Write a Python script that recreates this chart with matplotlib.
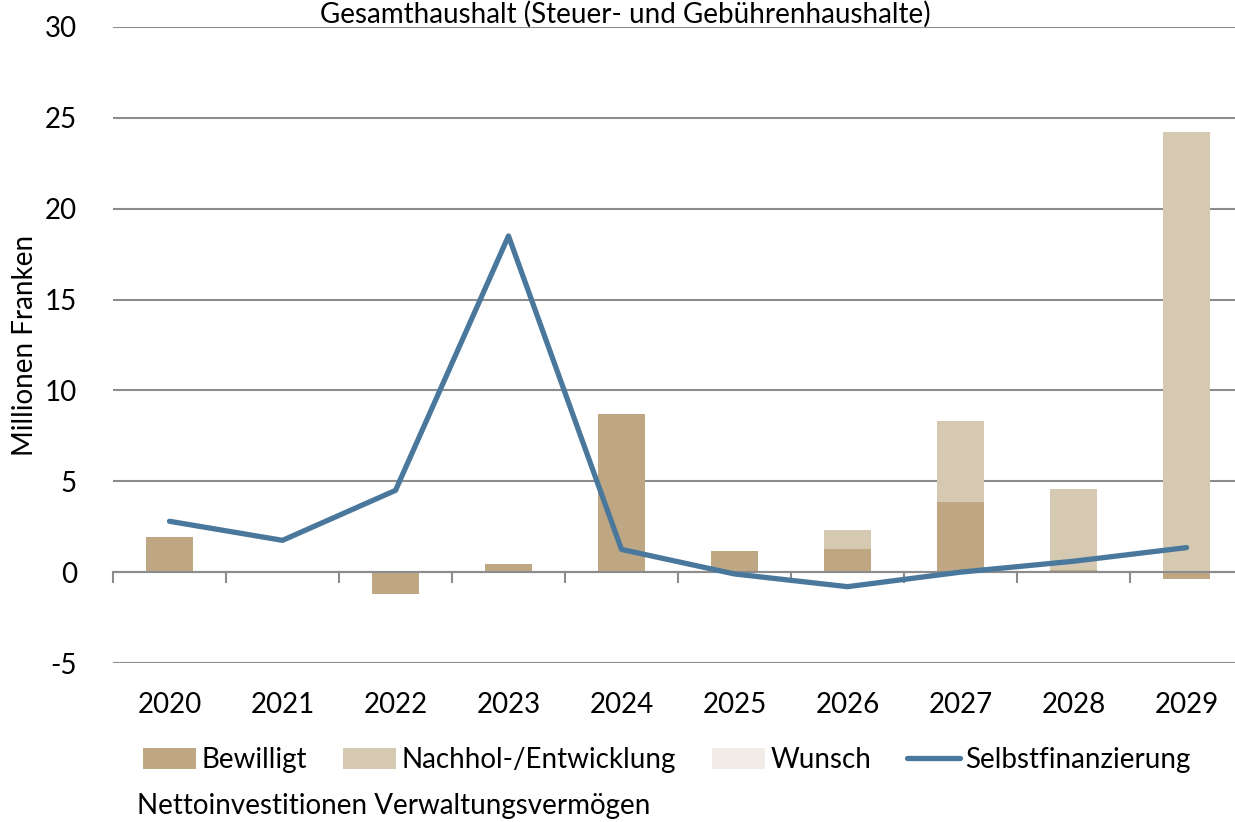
import matplotlib.pyplot as plt
import numpy as np

plt.rcParams['font.family'] = ['Lato', 'DejaVu Sans']
plt.rcParams['axes.unicode_minus'] = False

years = ['2020', '2021', '2022', '2023', '2024', '2025', '2026', '2027', '2028', '2029']
bewilligt = [1.95, 0.0, -1.2, 0.45, 8.7, 1.15, 1.27, 3.85, 0.1, -0.35]
nachhol = [0.0, 0.0, 0.0, 0.0, 0.0, 0.0, 1.05, 4.45, 4.45, 24.2]
wunsch = [0.0, 0.0, 0.0, 0.0, 0.0, 0.0, 0.0, 0.0, 0.0, 0.0]
selbstfin = [2.8, 1.75, 4.5, 18.5, 1.25, -0.1, -0.8, 0.0, 0.6, 1.35]

c_bew = '#BEA782'
c_nach = '#D6C9B1'
c_wun = '#F1ECE5'
c_line = '#4A789C'
fs = 20

fig = plt.figure(figsize=(12.35, 8.22), dpi=100)
ax = fig.add_axes([113 / 1235, 1 - 663 / 822, 1130 / 1235, (663 - 27) / 822])

x = np.arange(len(years))
bew = np.array(bewilligt)
nach = np.array(nachhol)
wun = np.array(wunsch)
bottom_n = np.where(bew > 0, bew, 0)
w = 0.41
h1 = ax.bar(x, bew, w, color=c_bew, label='Bewilligt', zorder=2)
h2 = ax.bar(x, nach, w, bottom=bottom_n, color=c_nach, label='Nachhol-/Entwicklung', zorder=2)
h3 = ax.bar(x, wun, w, bottom=bottom_n + nach, color=c_wun, label='Wunsch', zorder=2)
h4, = ax.plot(x, selbstfin, color=c_line, lw=3.8, solid_capstyle='round', label='Selbstfinanzierung', zorder=4)

ax.set_xlim(-0.5, len(years) - 0.5)
ax.set_ylim(-5, 30)
ax.set_yticks(range(-5, 31, 5))
ax.yaxis.grid(True, color='#8C8C8C', lw=1.5, zorder=0)
ax.set_axisbelow(True)
for s in ax.spines.values():
    s.set_visible(False)
ax.axhline(0, color='#8C8C8C', lw=1.5, zorder=3)

# category boundary ticks on zero line
for b in np.arange(-0.5, len(years), 1):
    ax.plot([b, b], [0, -0.55], color='#8C8C8C', lw=1.5, zorder=3, clip_on=False)

ax.set_xticks(x)
ax.set_xticklabels(years)
ax.tick_params(axis='x', length=0, labelsize=fs, pad=21)
ax.tick_params(axis='y', length=0, labelsize=fs, pad=26)

fig.text(25 / 1235, 1 - 345 / 822, 'Millionen Franken', rotation=90, fontsize=fs,
         ha='center', va='center')
fig.text(625 / 1235, 1 - 1 / 822, 'Gesamthaushalt (Steuer- und Gebührenhaushalte)',
         fontsize=fs, ha='center', va='top')

leg = fig.legend([h1, h2, h3, h4], ['Bewilligt', 'Nachhol-/Entwicklung', 'Wunsch', 'Selbstfinanzierung'],
                 loc='center left', bbox_to_anchor=(118 / 1235, 1 - 760 / 822), ncol=4,
                 frameon=False, fontsize=fs, handlelength=1.9, handleheight=0.8,
                 handletextpad=0.2, columnspacing=1.3)
fig.text(137 / 1235, 1 - 806 / 822, 'Nettoinvestitionen Verwaltungsvermögen', fontsize=fs,
         ha='left', va='center')

fig.savefig('out.png', dpi=100)
